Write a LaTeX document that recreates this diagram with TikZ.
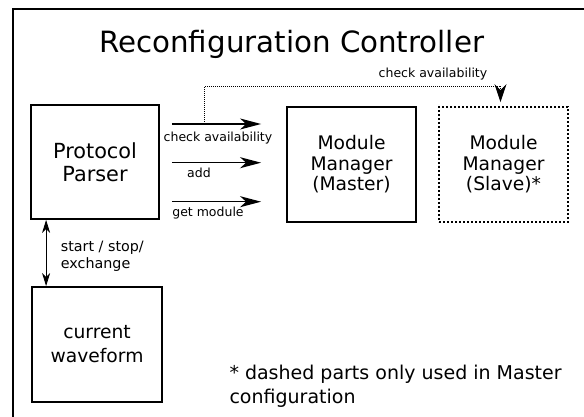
\documentclass[tikz,border=0pt]{standalone}
\usepackage{fontspec}
\setmainfont{DejaVu Sans}
\usetikzlibrary{arrows.meta,calc}
\newcommand\fsz[2]{\fontsize{#1}{#2}\selectfont}
\begin{document}
\begin{tikzpicture}[x=1pt,y=-1pt,
  box/.style={draw,line width=1.8pt,inner sep=0pt,align=center},
  slavebox/.style={box,dash pattern=on 2pt off 2pt},
  arr/.style={line width=1.5pt,-{Stealth[length=21pt,width=11pt,inset=6pt]}},
  dblarr/.style={line width=0.9pt,{Stealth[length=13pt,width=8pt,inset=4pt]}-{Stealth[length=13pt,width=8pt,inset=4pt]}},
  dotarr/.style={line width=0.9pt,dash pattern=on 1pt off 1pt,-{Stealth[length=18pt,width=12pt,inset=6pt]}},
  small/.style={font=\fsz{12.5}{15},inner sep=0pt},
]
\useasboundingbox (0,0) rectangle (584,417);
% outer frame (cut by the page)
\draw[line width=2pt] (13,430) -- (13,9) -- (600,9);
\node[anchor=base,font=\fsz{29.3}{34},inner sep=0pt] (title) at (291.7,53) {Reconfiguration Controller};

\node[box,minimum width=128pt,minimum height=114pt,font=\fsz{20.8}{22.5}] (pp) at (95,162) {Protocol\\Parser};
\node[box,minimum width=130pt,minimum height=115pt,font=\fsz{18.7}{24}] (cw) at (97,344.5) {current\\waveform};
\node[box,minimum width=129pt,minimum height=115pt,font=\fsz{18.7}{20.5}] (mm) at (351.5,164.5) {Module\\Manager\\(Master)};
\node[slavebox,minimum width=129pt,minimum height=115pt,font=\fsz{18.7}{20.5}] (ms) at (503.5,164.5) {Module\\Manager\\(Slave)*};

% arrows parser -> master
\coordinate (c1) at ($(pp.east)+(12,-38)$);
\coordinate (c2) at ($(pp.east)+(12,0.7)$);
\coordinate (c3) at ($(pp.east)+(12,39.7)$);
\draw[arr,shorten >=25pt] (c1) -- (c1 -| mm.west);
\draw[arr,shorten >=25pt] (c2) -- (c2 -| mm.west);
\draw[arr,shorten >=25pt] (c3) -- (c3 -| mm.west);
\node[small,anchor=base] (l1) at (218,141.7) {check availability};
\node[small,anchor=base] (l2) at (199,178) {add};
\node[small,anchor=base] (l3) at (208,216.7) {get module};

% dotted connector to slave
\coordinate (tap) at ($(c1)+(33,0)$);
\coordinate (bend) at ($(tap)+(0,-38)$);
\coordinate (stop) at ($(ms.north)+(-3,-4)$);
\draw[dotarr] (tap) -- (bend) -| (stop);
\node[small,anchor=base] (l4) at (433,78) {check availability};

% parser <-> waveform
\draw[dblarr] ($(pp.south west)+(16,0)$) -- ($(cw.north west)+(15,0)$);
\node[anchor=base west,align=left,inner sep=0pt,font=\fsz{14.3}{17}] (l5) at (60.7,268.5) {start / stop/\\exchange};

\node[anchor=base west,align=left,inner sep=0pt,font=\fsz{19}{24}] (note) at (229.3,403.3) {* dashed parts only used in Master\\configuration};
\end{tikzpicture}
\end{document}
